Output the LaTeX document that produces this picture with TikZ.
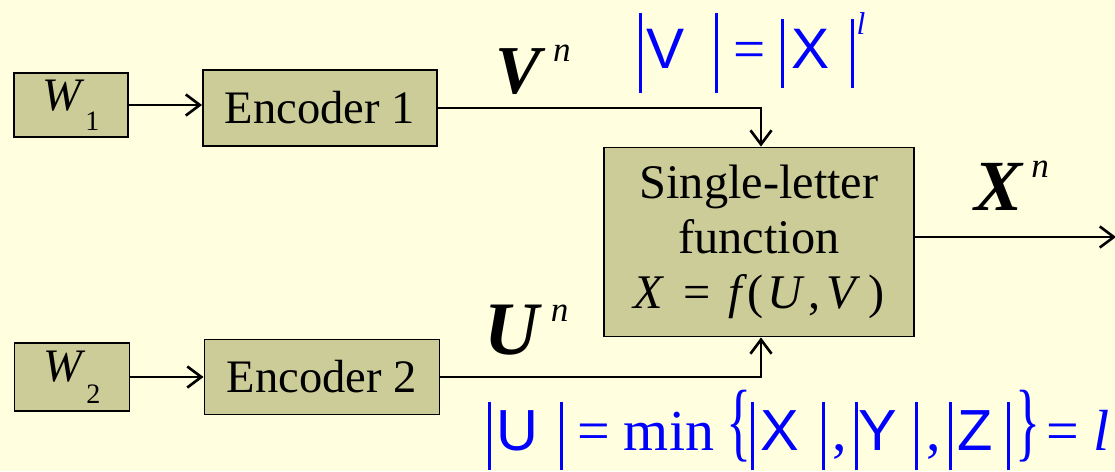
\documentclass[tikz,border=0pt]{standalone}
\usepackage{fontspec}
\setmainfont{Liberation Serif}
\newfontfamily\sansblue{Liberation Sans}
\usetikzlibrary{arrows.meta}
\definecolor{bgyellow}{RGB}{255,255,224}
\definecolor{boxolive}{RGB}{204,204,153}
\newlength\px
\setlength\px{0.02cm}
\newcommand\absbar[2]{\rule[-#1\px]{3\px}{#2\px}}
\newcommand\tallbrace[1]{\scalebox{0.9}[1.5]{#1}}

\begin{document}
\begin{tikzpicture}[x=0.02cm, y=-0.02cm,
    >={Straight Barb[length=8pt,width=12pt]},
    block/.style={draw=black, line width=1.1pt, fill=boxolive, inner sep=0pt,
      font=\fontsize{26.5}{31.3}\selectfont},
    link/.style={line width=1.5pt, ->},
    varlabel/.style={inner sep=0pt, anchor=base west},
    eqn/.style={text=blue, inner sep=0pt, anchor=base west,
      font=\fontsize{33}{36}\selectfont}]
  \fill[bgyellow] (0,0) rectangle (1115,471);
  \useasboundingbox (0,0) rectangle (1115,471);
  % blocks
  \node[block, minimum width=114\px, minimum height=64\px] (w1) at (71,105)
    {\itshape W\hspace{4\px}\raisebox{-20\px}{\fontsize{16}{16}\selectfont\upshape 1}\hspace{8\px}};
  \node[block, minimum width=234\px, minimum height=76\px] (enc1) at (320,108) {Encoder 1};
  \node[block, minimum width=115\px, minimum height=68\px] (w2) at (72,377)
    {\itshape W\hspace{4\px}\raisebox{-22\px}{\fontsize{16}{16}\selectfont\upshape 2}\hspace{8\px}};
  \node[block, minimum width=235\px, minimum height=75\px] (enc2) at (322,377) {Encoder 2};
  \node[block, minimum width=310\px, minimum height=189\px, align=center,
    font=\fontsize{27.5}{31.3}\selectfont] (slf) at (759,242)
    {Single-letter\\function\\{\itshape X}\hspace{20\px}=\hspace{18\px}{\itshape f}\hspace{6\px}(\hspace{4\px}{\itshape U}\hspace{6\px},\hspace{6\px}{\itshape V}\hspace{12\px})};
  % connectors
  \coordinate (xout) at (1116,237);
  \draw[link] (w1.east) -- (w1.east -| enc1.west);
  \draw[link] (w2.east) -- (w2.east -| enc2.west);
  \draw[link] (enc1.east) -| ([xshift=2\px]slf.north);
  \draw[link] (enc2.east) -| ([xshift=2\px]slf.south);
  \draw[link] (slf.east |- xout) -- (xout);
  % signal labels
  \node[varlabel, font=\fontsize{39}{40}\selectfont] (vlab) at (495,93)
    {\bfseries\itshape V\hspace{12\px}\raisebox{32\px}{\fontsize{20}{20}\selectfont\mdseries n}};
  \node[varlabel, font=\fontsize{43}{44}\selectfont] (ulab) at (484,354)
    {\bfseries\itshape U\hspace{12\px}\raisebox{33\px}{\fontsize{20}{20}\selectfont\mdseries n}};
  \node[varlabel, font=\fontsize{41}{42}\selectfont] (xlab) at (974,210)
    {\bfseries\itshape X\hspace{9\px}\raisebox{33\px}{\fontsize{20}{20}\selectfont\mdseries n}};
  % cardinality bounds
  \node[eqn, font=\fontsize{32.5}{36}\selectfont] (vcard) at (639,68)
    {{\sansblue\absbar{25}{80}\hspace{4\px}V\hspace{31\px}\absbar{25}{80}}\hspace{15\px}=\hspace{15\px}{\sansblue\absbar{20}{69}\hspace{8\px}X\hspace{21\px}\absbar{20}{69}}\hspace{3\px}\raisebox{34\px}{\fontsize{18}{18}\selectfont\itshape l}};
  \node[eqn] (ucard) at (488,450)
    {{\sansblue\absbar{20}{68}\hspace{5\px}U\hspace{22\px}\absbar{20}{68}}\hspace{14\px}=\hspace{14\px}min\hspace{12\px}\tallbrace\{{\sansblue\absbar{20}{68}\hspace{6\px}X\hspace{23\px}\absbar{20}{68}}\hspace{8\px},\hspace{8\px}{\sansblue\absbar{20}{68}Y\hspace{18\px}\absbar{20}{68}}\hspace{8\px},\hspace{8\px}{\sansblue\absbar{20}{68}\hspace{6\px}Z\hspace{14\px}\absbar{20}{68}}\hspace{6\px}\tallbrace\}\hspace{6\px}=\hspace{14\px}{\itshape l}};
\end{tikzpicture}
\end{document}
